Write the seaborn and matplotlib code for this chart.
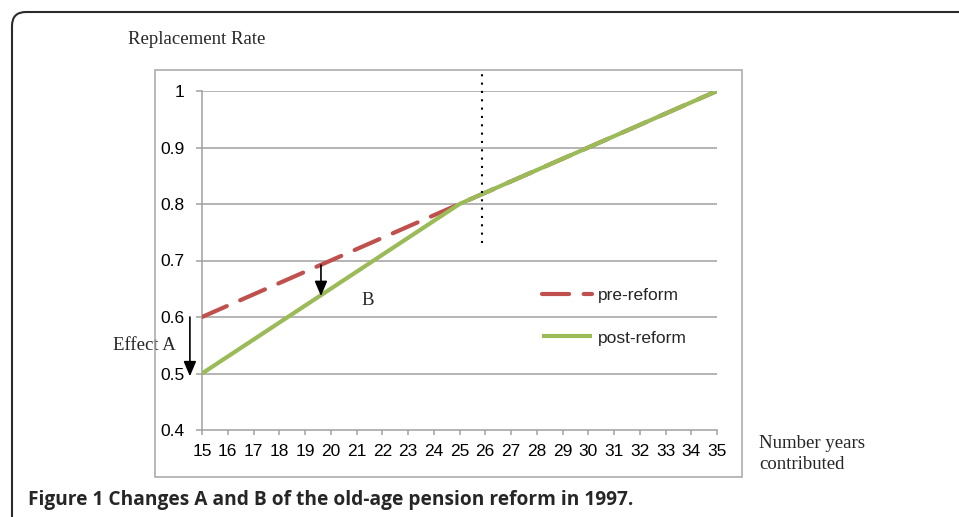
import numpy as np
import matplotlib
import matplotlib.pyplot as plt
import seaborn as sns
from matplotlib.patches import Rectangle, FancyBboxPatch
from matplotlib.transforms import IdentityTransform

matplotlib.use('Agg')

sns.set_style("white")
plt.rcParams['font.family'] = ['Liberation Sans', 'DejaVu Sans']

# data
years = [15, 16, 17, 18, 19, 20, 21, 22, 23, 24, 25,
         26, 27, 28, 29, 30, 31, 32, 33, 34, 35]
pre_reform = [0.60, 0.62, 0.64, 0.66, 0.68, 0.70, 0.72, 0.74, 0.76, 0.78, 0.80,
              0.82, 0.84, 0.86, 0.88, 0.90, 0.92, 0.94, 0.96, 0.98, 1.00]
post_reform = [0.50, 0.53, 0.56, 0.59, 0.62, 0.65, 0.68, 0.71, 0.74, 0.77, 0.80,
               0.82, 0.84, 0.86, 0.88, 0.90, 0.92, 0.94, 0.96, 0.98, 1.00]
y_ticks = [0.4, 0.5, 0.6, 0.7, 0.8, 0.9, 1.0]
y_tick_labels = ['0.4', '0.5', '0.6', '0.7', '0.8', '0.9', '1']

# annotations: effect A at start of contribution, effect B at ~19.6 years
effect_a_x = 14.53
effect_a_from, effect_a_to = 0.60, 0.495
effect_b_x = 19.62
effect_b_from, effect_b_to = 0.692, 0.637
marker_year = 25.86  # dotted reference line

W, H = 959, 517
fig = plt.figure(figsize=(W / 100, H / 100), dpi=100)

# outer rounded frame (runs off the right and bottom edges)
fig.patches.append(FancyBboxPatch((12, -60), 1200, H - 12 + 60,
                                  boxstyle="round,pad=0,rounding_size=14",
                                  transform=IdentityTransform(), fill=False,
                                  edgecolor='#2b2b2b', lw=1.5, zorder=0))
# chart area border
fig.patches.append(Rectangle((155 / W, (H - 477) / H), (742 - 155) / W, (477 - 70) / H,
                             transform=fig.transFigure, fill=False,
                             edgecolor='#a6a6a6', lw=1.1, zorder=0))

ax = fig.add_axes([202 / W, (H - 430) / H, 515 / W, 339 / H])
ax.set_facecolor('none')

grid_c = '#a0a0a0'
for v in y_ticks[1:]:
    ax.axhline(v, color=grid_c, lw=1.1, zorder=1)

sns.lineplot(x=years, y=pre_reform, ax=ax, color='#c0504d', lw=3,
             linestyle=(0, (6.5, 3.5)), dash_capstyle='round',
             label='pre-reform', zorder=3)
sns.lineplot(x=years, y=post_reform, ax=ax, color='#9bbb59', lw=3,
             solid_capstyle='butt', label='post-reform', zorder=4)

ax.set_xlim(15, 35)
ax.set_ylim(0.4, 1.0)
ax.set_xticks(years)
ax.set_xticklabels([str(y) for y in years])
ax.set_yticks(y_ticks)
ax.set_yticklabels(y_tick_labels)
ax.tick_params(axis='both', labelsize=12.5, colors=grid_c, labelcolor='black',
               width=1.1, direction='out')
ax.tick_params(axis='y', length=4.3, pad=8.5, left=True)
ax.tick_params(axis='x', length=3.6, pad=6.5, bottom=True)
for s in ['top', 'right']:
    ax.spines[s].set_visible(False)
for s in ['left', 'bottom']:
    ax.spines[s].set_color(grid_c)
    ax.spines[s].set_linewidth(1.1)
ax.set_xlabel('')
ax.set_ylabel('')

# dotted vertical reference line
ax.plot([marker_year, marker_year], [0.731, 1.037], color='black', lw=1.5,
        linestyle=(0, (1, 3)), clip_on=False, zorder=5)

# arrows
arrow_kw = dict(arrowstyle='-|>,head_length=0.9,head_width=0.38', color='black', lw=1.2,
                shrinkA=0, shrinkB=0)
ax.annotate('', xy=(effect_a_x, effect_a_to), xytext=(effect_a_x, effect_a_from),
            arrowprops=arrow_kw, annotation_clip=False, zorder=6)
ax.annotate('', xy=(effect_b_x, effect_b_to), xytext=(effect_b_x, effect_b_from),
            arrowprops=arrow_kw, annotation_clip=False, zorder=6)

serif = ['Liberation Serif', 'DejaVu Serif']
ax.text(21.45, 0.630, 'B', family=serif, fontsize=13.5, ha='center', va='center',
        bbox=dict(facecolor='white', edgecolor='none', boxstyle='square,pad=0.4'),
        zorder=2)
ax.text(12.78, 0.55, 'Effect A', family=serif, fontsize=13.5, ha='center', va='center',
        bbox=dict(facecolor='white', edgecolor='none', boxstyle='square,pad=0.3'),
        clip_on=False, zorder=6)

fig.text(128 / W, (H - 40) / H, 'Replacement Rate', family=serif, fontsize=13.5,
         ha='left', va='center')
fig.text(759 / W, (H - 454) / H, 'Number years\ncontributed', family=serif,
         fontsize=13.5, ha='left', va='center', linespacing=1.25)

ax.legend(loc='center left', bbox_to_anchor=(542 / W, (H - 316.5) / H),
          bbox_transform=fig.transFigure, frameon=False, fontsize=12.5,
          handlelength=2.9, handletextpad=0.3, labelspacing=1.6,
          borderaxespad=0, borderpad=0)

fig.text(28 / W, (H - 500) / H,
         'Figure 1 Changes A and B of the old-age pension reform in 1997.',
         family=['Open Sans', 'DejaVu Sans'], fontweight='bold', fontsize=13.8,
         ha='left', va='center')

fig.savefig('out.png', dpi=100)
